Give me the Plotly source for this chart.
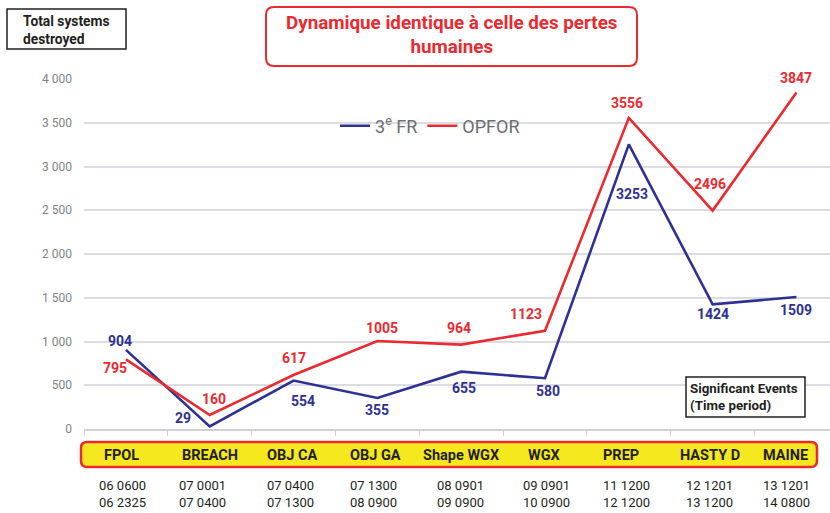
import plotly.graph_objects as go

categories = ["FPOL", "BREACH", "OBJ CA", "OBJ GA", "Shape WGX", "WGX", "PREP", "HASTY D", "MAINE"]
periods = ["06 0600<br>06 2325", "07 0001<br>07 0400", "07 0400<br>07 1300", "07 1300<br>08 0900",
           "08 0901<br>09 0900", "09 0901<br>10 0900", "11 1200<br>12 1200", "12 1201<br>13 1200",
           "13 1201<br>14 0800"]
fr_values = [904, 29, 554, 355, 655, 580, 3253, 1424, 1509]
opfor_values = [795, 160, 617, 1005, 964, 1123, 3556, 2496, 3847]
y_ticks = [0, 500, 1000, 1500, 2000, 2500, 3000, 3500, 4000]
y_tick_labels = ["0", "500", "1 000", "1 500", "2 000", "2 500", "3 000", "3 500", "4 000"]

W, H = 830, 513
L, T, B = 84, 79, 84
PW, PH = W - L, H - T - B

BLUE = "#2e3192"
RED = "#ea2a30"
FONT = "Roboto, Arial, sans-serif"


def px(x):
    return (x - L) / PW


def py(y):
    return (H - B - y) / PH


def rrect(x0, y0, x1, y1, r):
    X = lambda v: f"{px(v):.5f}"
    Y = lambda v: f"{py(v):.5f}"
    return (f"M {X(x0 + r)},{Y(y0)} L {X(x1 - r)},{Y(y0)} Q {X(x1)},{Y(y0)} {X(x1)},{Y(y0 + r)} "
            f"L {X(x1)},{Y(y1 - r)} Q {X(x1)},{Y(y1)} {X(x1 - r)},{Y(y1)} "
            f"L {X(x0 + r)},{Y(y1)} Q {X(x0)},{Y(y1)} {X(x0)},{Y(y1 - r)} "
            f"L {X(x0)},{Y(y0 + r)} Q {X(x0)},{Y(y0)} {X(x0 + r)},{Y(y0)} Z")


fig = go.Figure()
fig.add_trace(go.Scatter(x=categories, y=fr_values, mode="lines", name="3<sup>e</sup> FR",
                         line=dict(color=BLUE, width=2.6), hoverinfo="skip"))
fig.add_trace(go.Scatter(x=categories, y=opfor_values, mode="lines", name="OPFOR",
                         line=dict(color=RED, width=2.6), hoverinfo="skip"))

fr_offsets = [(-6, 9), (-27, 8), (9, -20), (0, -12), (3, -16), (3, -13), (3, -50), (0, -10), (0, -13)]
opfor_offsets = [(-11, -9), (4, 16), (0, 17), (5, 13), (-2, 17), (-19, 17), (-2, 15), (-3, 27), (0, 14)]
cat_label_shift = [-4, 0, -2, -2, 0, -1, -8, -3, -11]
period_label_shift = [-3.5, -7.5, -3, -4, -1, 1, -2, -3, -10]

annotations = []
for c, v, (dx, dy) in zip(categories, fr_values, fr_offsets):
    annotations.append(dict(x=c, y=v, text=f"<b>{v}</b>", showarrow=False, xshift=dx, yshift=dy,
                            xanchor="center", yanchor="middle",
                            font=dict(family=FONT, size=14, color=BLUE)))
for c, v, (dx, dy) in zip(categories, opfor_values, opfor_offsets):
    annotations.append(dict(x=c, y=v, text=f"<b>{v}</b>", showarrow=False, xshift=dx, yshift=dy,
                            xanchor="center", yanchor="middle",
                            font=dict(family=FONT, size=14, color=RED)))

for c, p, s1, s2 in zip(categories, periods, cat_label_shift, period_label_shift):
    annotations.append(dict(x=c, xref="x", y=py(455), yref="paper", text=f"<b>{c}</b>", showarrow=False,
                            xanchor="center", yanchor="middle", xshift=s1,
                            font=dict(family=FONT, size=14.5, color="#231f20")))
    annotations.append(dict(x=c, xref="x", y=py(494), yref="paper", text=p, showarrow=False,
                            xanchor="center", yanchor="middle", xshift=s2,
                            font=dict(family=FONT, size=13, color="#231f20"), align="center"))

annotations.append(dict(x=px(451), y=py(35), xref="paper", yref="paper", xanchor="center", yanchor="middle",
                        text="<b>Dynamique identique à celle des pertes<br>humaines</b>", showarrow=False,
                        font=dict(family=FONT, size=18.8, color=RED), align="center"))
annotations.append(dict(x=px(21), y=py(30), xref="paper", yref="paper", xanchor="left", yanchor="middle",
                        text="<b>Total systems<br>destroyed</b>", showarrow=False, align="left",
                        font=dict(family=FONT, size=13.8, color="#231f20")))
annotations.append(dict(x=px(688), y=py(397), xref="paper", yref="paper", xanchor="left", yanchor="middle",
                        text="<b>Significant Events<br>(Time period)</b>", showarrow=False, align="left",
                        font=dict(family=FONT, size=13.3, color="#231f20")))

shapes = [
    dict(type="path", xref="paper", yref="paper", path=rrect(81, 442, 817, 467, 6),
         fillcolor="#f6e81f", line=dict(color=RED, width=2.5), layer="below"),
    dict(type="path", xref="paper", yref="paper", path=rrect(266, 7, 637, 66, 8),
         fillcolor="white", line=dict(color=RED, width=2), layer="below"),
    dict(type="rect", xref="paper", yref="paper", x0=px(7), x1=px(126), y0=py(9), y1=py(49),
         fillcolor="white", line=dict(color="#231f20", width=1.5), layer="below"),
    dict(type="rect", xref="paper", yref="paper", x0=px(686), x1=px(805), y0=py(377), y1=py(417),
         fillcolor="white", line=dict(color="#231f20", width=1.5), layer="above"),
]

fig.update_layout(
    width=W, height=H, autosize=False,
    margin=dict(l=L, r=0, t=T, b=B),
    paper_bgcolor="white", plot_bgcolor="white",
    font=dict(family=FONT),
    showlegend=True,
    legend=dict(orientation="h", x=px(335), y=py(126), xanchor="left", yanchor="middle",
                bgcolor="rgba(0,0,0,0)", font=dict(family=FONT, size=18, color="#6d6e71"),
                itemwidth=30, tracegroupgap=0),
    xaxis=dict(type="category", range=[-0.5, 8.4], showticklabels=False, showgrid=False,
               showline=True, linecolor="#d0d0d8", linewidth=1.5, ticks="outside",
               tickson="boundaries", ticklen=5, tickcolor="#d0d0d8", zeroline=False, fixedrange=True),
    yaxis=dict(range=[0, 4000], tickvals=y_ticks, ticktext=y_tick_labels, showgrid=True,
               gridcolor="#dcdce4", gridwidth=1.5, zeroline=False, ticklabelstandoff=11,
               tickfont=dict(family=FONT, size=12, color="#808285"), fixedrange=True),
    annotations=annotations,
    shapes=shapes,
)

fig.write_html("out.html", config={"displayModeBar": False},
               post_script="document.body.style.margin='0px';document.body.style.overflow='hidden';")
